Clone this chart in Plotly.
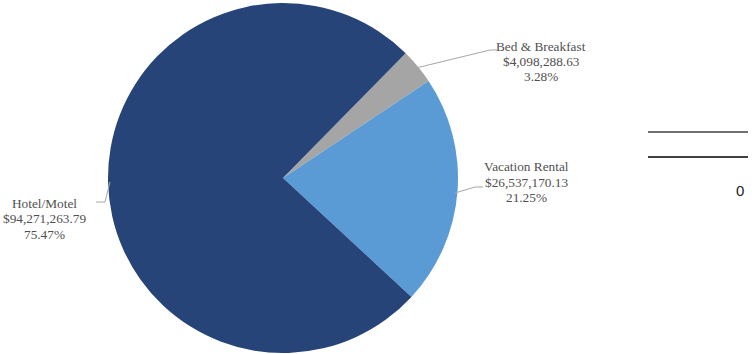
import plotly.graph_objects as go

categories = ["Bed & Breakfast", "Vacation Rental", "Hotel/Motel"]
values = [4098288.63, 26537170.13, 94271263.79]
colors = ["#A5A5A5", "#5B9BD5", "#264478"]

W, H = 752, 354
total = sum(values)

fig = go.Figure(go.Pie(
    labels=categories,
    values=values,
    sort=False,
    direction="clockwise",
    rotation=44.5,
    marker=dict(colors=colors, line=dict(width=0)),
    textinfo="none",
    hoverinfo="label+value+percent",
    domain=dict(x=[108 / W, 458 / W], y=[1 - 353 / H, 1 - 3 / H]),
    showlegend=False,
))

def px(x):
    return x / W

def py(y):
    return 1 - y / H

# label block: center x, y of first line
label_pos = {
    "Bed & Breakfast": (541, 46),
    "Vacation Rental": (526, 167),
    "Hotel/Motel": (44, 203),
}
line_gap = 15.5
leaders = {
    "Bed & Breakfast": [(416, 68), (490, 50), (497, 50)],
    "Vacation Rental": [(455, 193), (475, 187), (483, 187)],
    "Hotel/Motel": [(110, 182), (105, 202), (96, 202)],
}

for cat, val in zip(categories, values):
    x, y = label_pos[cat]
    pct = val / total * 100
    for i, t in enumerate([cat, f"${val:,.2f}", f"{pct:.2f}%"]):
        fig.add_annotation(
            x=px(x), y=py(y + i * line_gap), xref="paper", yref="paper",
            text=t, showarrow=False, align="center",
            xanchor="center", yanchor="middle",
            font=dict(family="Liberation Serif", size=13.3, color="#505050"),
        )
    pts = leaders[cat]
    path = "M " + " L ".join(f"{px(a)} {py(b)}" for a, b in pts)
    fig.add_shape(type="path", xref="paper", yref="paper", path=path,
                  line=dict(color="#A6A6A6", width=1))

fig.add_shape(type="line", xref="paper", yref="paper",
              x0=px(648), x1=px(748), y0=py(132), y1=py(132),
              line=dict(color="#404040", width=1.3))
fig.add_shape(type="line", xref="paper", yref="paper",
              x0=px(648), x1=px(748), y0=py(157), y1=py(157),
              line=dict(color="#000000", width=1.3))
fig.add_annotation(x=px(740), y=py(190), xref="paper", yref="paper",
                   text="0", showarrow=False, xanchor="center", yanchor="middle",
                   font=dict(family="Liberation Sans", size=15, color="#222222"))

fig.update_layout(
    width=W, height=H,
    margin=dict(l=0, r=0, t=0, b=0),
    paper_bgcolor="white", plot_bgcolor="white",
)

fig.write_html("out.html",
               config={"displayModeBar": False},
               post_script="document.body.style.margin='0px';document.body.style.overflow='hidden';")
